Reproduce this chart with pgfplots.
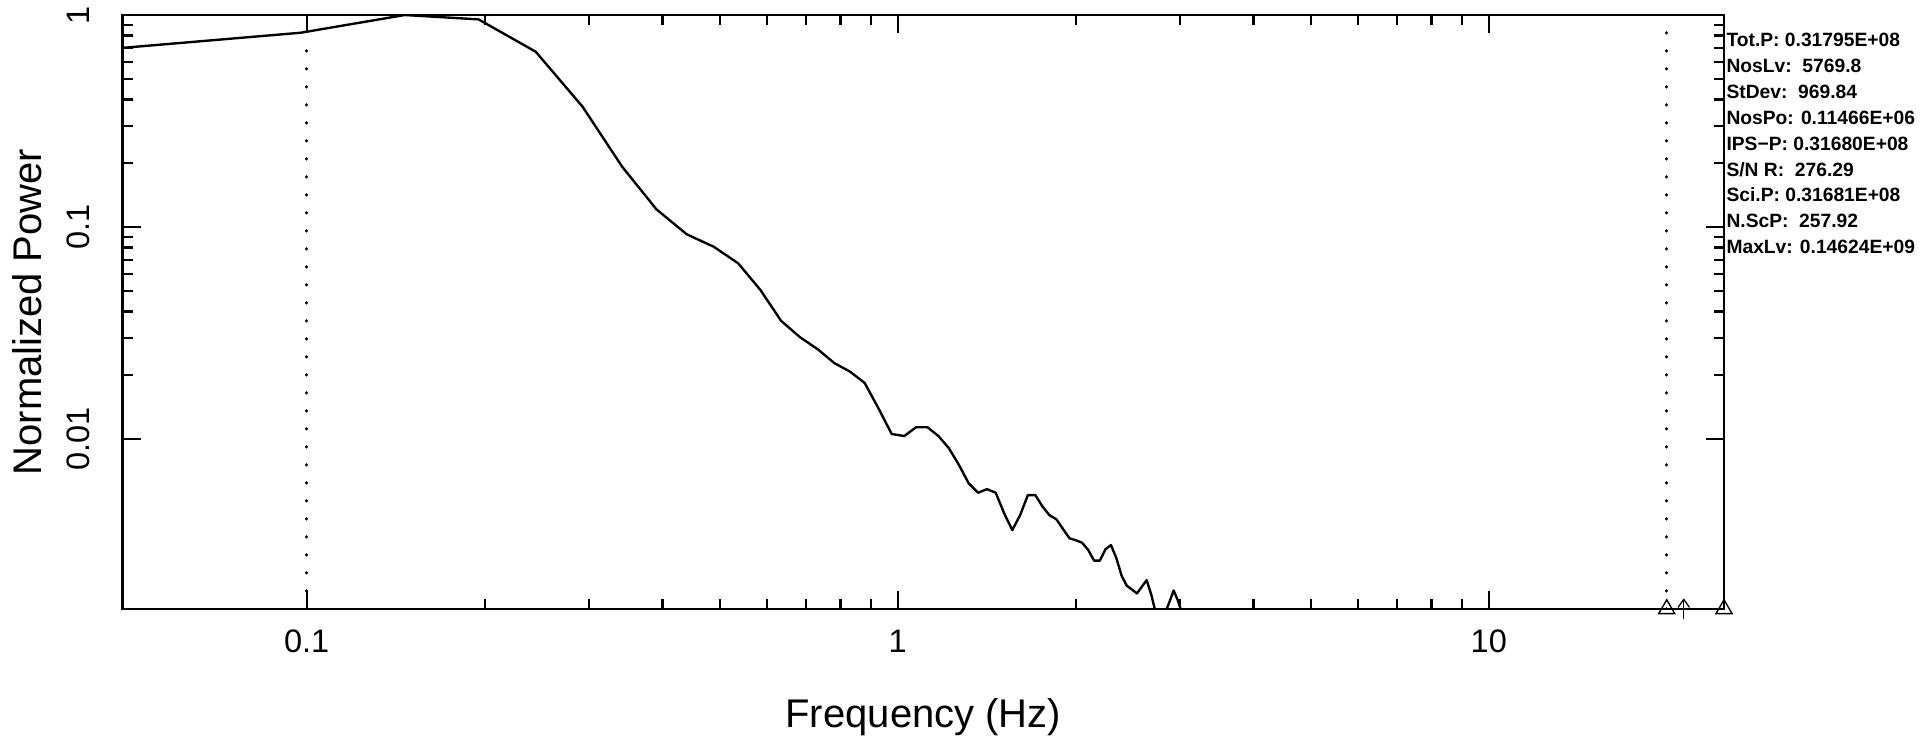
\documentclass[border=0pt]{standalone}
\usepackage{pgfplots}
\pgfplotsset{compat=1.18}
\usepackage{fontspec}
\setmainfont{Liberation Sans}
\usetikzlibrary{arrows.meta}
\begin{document}
\begin{tikzpicture}
\path[use as bounding box] (0,0) rectangle (768.4pt,295.6pt);
\begin{axis}[
  xmode=log, ymode=log,
  scale only axis, width=640.52pt, height=237.6pt,
  at={(49.08pt,52pt)}, anchor=south west,
  xmin=0.048828, xmax=25, ymin=0.001578, ymax=1,
  axis line style={line width=1.0pt, black},
  tick style={line width=0.9pt, black},
  tick align=inside,
  major tick length=7.2pt, minor tick length=4pt,
  xtick={0.1,1,10}, xticklabels={0.1,1,10},
  ytick={0.01,0.1,1}, yticklabels={0.01,0.1,1},
  ticklabel style={font=\fontsize{13}{13}\selectfont},
  xticklabel style={yshift=-8.1pt, anchor=north, inner sep=0pt},
  yticklabel style={xshift=-13.1pt, rotate=90, anchor=south, inner sep=0pt},
  xlabel={Frequency (Hz)},
  ylabel={Normalized Power},
  every axis x label/.style={at={(rel axis cs:0.5,0)}, yshift=-47.5pt, anchor=base, inner sep=0pt, font=\fontsize{16}{16}\selectfont},
  every axis y label/.style={at={(rel axis cs:0,0.5)}, xshift=-32.4pt, rotate=90, anchor=base, inner sep=0pt, font=\fontsize{16}{16}\selectfont},
]
\addplot[black, line width=0.95pt, line join=round] coordinates {
(0.0488,0.700) (0.0977,0.825) (0.1465,1.000) (0.1953,0.954) (0.2441,0.671)
(0.2930,0.369) (0.3418,0.1925) (0.3906,0.1212) (0.4395,0.0924) (0.4883,0.0807)
(0.5371,0.0674) (0.5859,0.0504) (0.6348,0.0361) (0.6836,0.0302) (0.7324,0.0265)
(0.7813,0.0228) (0.8301,0.0208) (0.8789,0.0184) (0.9277,0.01395) (0.9766,0.01056)
(1.0254,0.01033) (1.0742,0.01136) (1.1230,0.01136) (1.1719,0.01033) (1.2207,0.00904)
(1.2695,0.00754) (1.3184,0.00618) (1.3672,0.00558) (1.4160,0.00580) (1.4648,0.00558)
(1.5137,0.00446) (1.5625,0.00372) (1.6113,0.00438) (1.6602,0.00544) (1.7090,0.00544)
(1.7578,0.00480) (1.8066,0.00437) (1.8555,0.00418) (1.9043,0.00376) (1.9531,0.00340)
(2.0020,0.00333) (2.0508,0.00324) (2.0996,0.00300) (2.1484,0.00267) (2.1973,0.00267)
(2.2461,0.00302) (2.2949,0.00316) (2.3438,0.00274) (2.3926,0.00226) (2.4414,0.00203)
(2.4902,0.00195) (2.5391,0.00187) (2.5879,0.00201) (2.6367,0.00216) (2.6855,0.00184)
(2.7344,0.00150) (2.7832,0.00120) (2.8320,0.00150) (2.8809,0.00170) (2.9297,0.00193)
(2.9785,0.00173) (3.0273,0.00150) (3.5,0.0010) (5,0.0008) (10,0.0007) (25,0.0006)
};
\addplot[black, line width=1.3pt, line cap=round, dash pattern=on 0.1pt off 7.1pt] coordinates {(0.1,0.001578) (0.1,0.72)};
\addplot[black, line width=1.3pt, line cap=round, dash pattern=on 0.1pt off 7.1pt] coordinates {(20,0.001578) (20,1)};
\end{axis}
\begin{axis}[
  xmode=log, ymode=log,
  scale only axis, width=640.52pt, height=237.6pt,
  at={(49.08pt,52pt)}, anchor=south west,
  xmin=0.048828, xmax=25, ymin=0.001578, ymax=1,
  hide axis, clip=false]
\addplot[only marks, black, mark=triangle, mark size=3.7pt, mark options={line width=0.55pt, fill=none}] coordinates {(20,0.001578) (25,0.001578)};
\addplot[black, line width=0.5pt, -{Straight Barb[length=3.2pt, width=4.6pt]}] coordinates {(21.37,0.001411) (21.37,0.001772)};
\end{axis}
\begin{scope}[every node/.style={anchor=base west, inner sep=0pt, font=\bfseries\fontsize{7.7}{7.7}\selectfont}]
\node at (690.4pt,276.92pt) {Tot.P: 0.31795E+08};
\node at (690.4pt,266.52pt) {NosLv:\ \ 5769.8};
\node at (690.4pt,256.28pt) {StDev:\ \ 969.84};
\node at (690.4pt,246.00pt) {NosPo: 0.11466E+06};
\node at (690.4pt,235.60pt) {IPS−P: 0.31680E+08};
\node at (690.4pt,225.20pt) {S/N R:\ \ 276.29};
\node at (690.4pt,214.92pt) {Sci.P: 0.31681E+08};
\node at (690.4pt,204.52pt) {N.ScP:\ \ 257.92};
\node at (690.4pt,194.28pt) {MaxLv: 0.14624E+09};
\end{scope}
\end{tikzpicture}
\end{document}
